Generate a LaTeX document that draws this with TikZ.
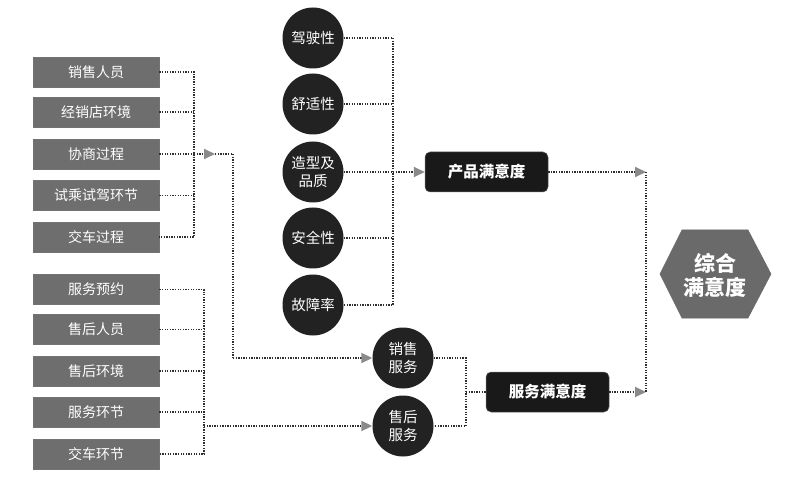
\documentclass[tikz,border=0pt]{standalone}
\usepackage{fontspec}
\setmainfont{Noto Sans CJK SC}
\usetikzlibrary{arrows.meta,shapes.geometric}
\definecolor{boxgray}{HTML}{6E6E6E}
\definecolor{circdark}{HTML}{222222}
\definecolor{linecol}{HTML}{2E2E2E}
\definecolor{tipgray}{HTML}{8A8A8A}
\definecolor{hexgray}{HTML}{6A6A6A}
\begin{document}
\begin{tikzpicture}[x=1pt,y=-1pt,
  lbox/.style={draw=black!55, line width=0.6pt, fill=boxgray, text=white, minimum width=126pt, minimum height=30pt, inner sep=0pt, font=\fontsize{14}{16}\selectfont},
  circ/.style={circle, fill=circdark, text=white, minimum size=61pt, inner sep=0pt, align=center, font=\fontsize{14.5}{18}\selectfont},
  sbox/.style={rounded corners=5pt, fill=black!90, draw=black!60, line width=0.5pt, text=white, minimum width=123pt, minimum height=40pt, inner sep=0pt, font=\bfseries\fontsize{15.5}{18}\selectfont},
  dots/.style={draw=linecol, line width=1.9pt, dash pattern=on 1.3pt off 1.3pt},
  tip/.style={-{Triangle[length=11pt,width=10pt,color=tipgray]}},
]
\useasboundingbox (0,0) rectangle (800,478);
\fill[white] (0,0) rectangle (800,478);

% junction columns
\coordinate (jx) at (194,0);
\coordinate (kx) at (233,0);
\coordinate (jy) at (204,0);
\coordinate (jz) at (393,0);
\coordinate (jw) at (466,0);
\coordinate (jv) at (646,0);
\coordinate (a1) at (215,154);

% left group 1
\node[lbox] (l1) at (96,72) {销售人员};
\node[lbox] (l2) at (96,112) {经销店环境};
\node[lbox] (l3) at (96,154) {协商过程};
\node[lbox] (l4) at (96,195.5) {试乘试驾环节};
\node[lbox] (l5) at (96,237) {交车过程};

% left group 2
\node[lbox] (m1) at (96,289.5) {服务预约};
\node[lbox] (m2) at (96,329.5) {售后人员};
\node[lbox] (m3) at (96,371) {售后环境};
\node[lbox] (m4) at (96,412) {服务环节};
\node[lbox] (m5) at (96,454) {交车环节};

% product circles
\node[circ] (c1) at (313,38) {驾驶性};
\node[circ] (c2) at (313,104) {舒适性};
\node[circ] (c3) at (313,172) {造型及\\品质};
\node[circ] (c4) at (313,238) {安全性};
\node[circ] (c5) at (313,305) {故障率};

% service circles
\node[circ] (s1) at (403,358) {销售\\服务};
\node[circ] (s2) at (403,426) {售后\\服务};

% satisfaction boxes
\node[sbox] (p) at (486.5,172) {产品满意度};
\node[sbox] (s) at (547.5,392) {服务满意度};

% hexagon
\fill[hexgray, draw=black!60, line width=0.5pt] (660,274) -- (682,230) -- (748,230) -- (771,274) -- (748,318) -- (682,318) -- cycle;
\node[text=white, align=center, font=\bfseries\fontsize{21}{24}\selectfont] (h) at (715,275) {综合\\满意度};

% group 1 connectors
\draw[dots] (l1.east) -- (l1.east -| jx) -- (l5.east -| jx) -- (l5.east);
\draw[dots] (l2.east) -- (l2.east -| jx);
\draw[dots] (l3.east) -- (l3.east -| jx);
\draw[dots] (l4.east) -- (l4.east -| jx);
\draw[dots, tip] (l3.east -| jx) -- (a1);
\draw[dots] (a1) -- (a1 -| kx) -- (kx |- s1.west);
\draw[dots, tip] (kx |- s1.west) -- (s1.west);

% group 2 connectors
\draw[dots] (m1.east) -- (m1.east -| jy) -- (m5.east -| jy) -- (m5.east);
\draw[dots] (m2.east) -- (m2.east -| jy);
\draw[dots] (m3.east) -- (m3.east -| jy);
\draw[dots] (m4.east) -- (m4.east -| jy);
\draw[dots, tip] (jy |- s2.west) -- (s2.west);

% product circles connectors
\draw[dots] (c1.east) -- (c1.east -| jz) -- (c5.east -| jz) -- (c5.east);
\draw[dots] (c2.east) -- (c2.east -| jz);
\draw[dots] (c4.east) -- (c4.east -| jz);
\draw[dots] (c3.east) -- (c3.east -| jz);
\draw[dots, tip] (c3.east -| jz) -- (p.west);

% service circles connectors
\draw[dots] (s1.east) -- (s1.east -| jw) -- (s2.east -| jw) -- (s2.east);
\draw[dots] (jw |- s.west) -- (s.west);

% to final column
\draw[dots, tip] (p.east) -- (p.east -| jv);
\draw[dots, tip] (s.east) -- (s.east -| jv);
\draw[dots] (p.east -| jv) -- (s.east -| jv);
\end{tikzpicture}
\end{document}
